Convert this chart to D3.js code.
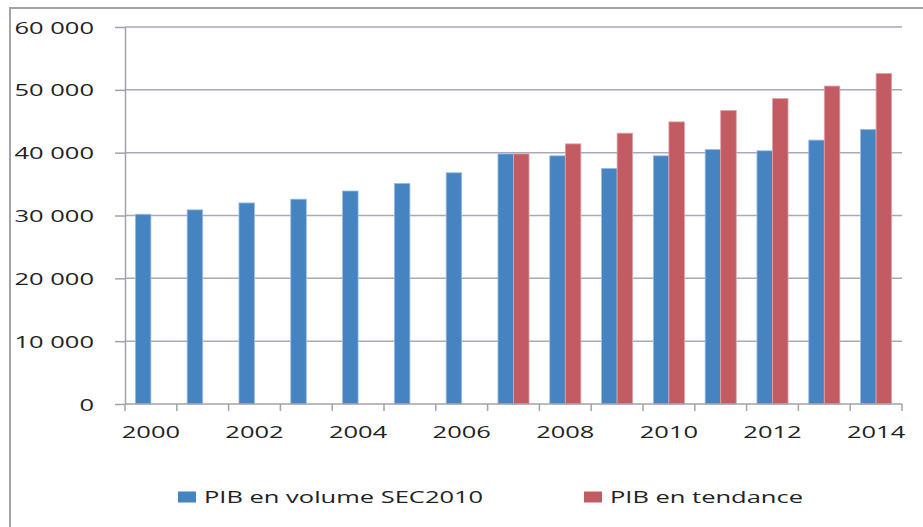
<!DOCTYPE html>
<html>
<head>
<meta charset="utf-8">
<script src="https://cdn.jsdelivr.net/npm/d3@7"></script>
<style>
  body { margin: 0; background: #fff; }
  svg { display: block; }
  text { font-family: "Open Sans", sans-serif; fill: #222; }
</style>
</head>
<body>
<svg id="chart" width="923" height="527"></svg>
<script>
// data
const years = [2000, 2001, 2002, 2003, 2004, 2005, 2006, 2007, 2008, 2009, 2010, 2011, 2012, 2013, 2014];
const volume = [30200, 30900, 32000, 32600, 33900, 35100, 36800, 39800, 39500, 37500, 39500, 40500, 40300, 42000, 43700];
const tendance = [null, null, null, null, null, null, null, 39800, 41400, 43100, 44900, 46700, 48600, 50600, 52600];
const seriesNames = ["PIB en volume SEC2010", "PIB en tendance"];
const colors = ["#4584c1", "#c35c62"];
const yTicks = [0, 10000, 20000, 30000, 40000, 50000, 60000];

const SX = 1.5; // the original picture is stretched horizontally
const margin = {left: 125, right: 21, top: 27, bottom: 123};
const width = 923, height = 527;

const svg = d3.select("#chart");

// outer frame
svg.append("rect")
  .attr("x", 10).attr("y", 8)
  .attr("width", 960).attr("height", 560)
  .attr("fill", "none")
  .attr("stroke", "#a2a2a8")
  .attr("stroke-width", 2);

const x = d3.scaleBand()
  .domain(years)
  .range([margin.left, width - margin.right])
  .padding(0);

const inner = 0.6; // cluster share of the category
const x1 = d3.scaleBand()
  .domain([0, 1])
  .range([x.bandwidth() * (1 - inner) / 2, x.bandwidth() * (1 + inner) / 2]);

const y = d3.scaleLinear()
  .domain([0, 60000])
  .range([height - margin.bottom, margin.top]);

const fr = d3.formatLocale({decimal: ",", thousands: " ", grouping: [3], currency: ["", " €"]});
const fmt = fr.format(",");

// gridlines
svg.append("g")
  .selectAll("line")
  .data(yTicks.filter(d => d > 0))
  .enter().append("line")
  .attr("x1", margin.left).attr("x2", width - margin.right)
  .attr("y1", d => y(d)).attr("y2", d => y(d))
  .attr("stroke", "#a9a9ba")
  .attr("stroke-width", 1.5);

// bars
const groups = svg.append("g")
  .selectAll("g")
  .data(years.map((yr, i) => ({yr, vals: [volume[i], tendance[i]]})))
  .enter().append("g")
  .attr("transform", d => `translate(${x(d.yr)},0)`);

groups.selectAll("rect")
  .data(d => d.vals.map((v, k) => ({v, k})).filter(e => e.v != null))
  .enter().append("rect")
  .attr("x", d => x1(d.k))
  .attr("width", x1.bandwidth())
  .attr("y", d => y(d.v))
  .attr("height", d => y(0) - y(d.v))
  .attr("fill", d => colors[d.k])
  .attr("stroke", d => d.k === 0 ? "#9dbde0" : "#dea3a6")
  .attr("stroke-width", 0.8);

// y axis
const yAxis = svg.append("g")
  .attr("transform", `translate(${margin.left},0)`)
  .call(d3.axisLeft(y).tickValues(yTicks).tickFormat(fmt).tickSize(10).tickSizeOuter(0));
yAxis.select(".domain").attr("stroke", "#a2a2ae").attr("stroke-width", 1.5);
yAxis.selectAll(".tick line").attr("stroke", "#a2a2ae").attr("stroke-width", 1.5);
yAxis.selectAll(".tick text")
  .attr("x", null).attr("dy", "0.36em")
  .attr("transform", `translate(-31,0) scale(${SX},1)`)
  .style("font-size", "17px")
  .attr("fill", "#222");

// x axis: ticks on the category boundaries, labels on every other year
const xAxis = svg.append("g")
  .attr("transform", `translate(0,${y(0)})`);
xAxis.append("line")
  .attr("x1", margin.left).attr("x2", width - margin.right)
  .attr("stroke", "#a2a2ae").attr("stroke-width", 1.5);
const bounds = years.map(d => x(d)).concat([x(years[years.length - 1]) + x.bandwidth()]);
xAxis.selectAll(".btick")
  .data(bounds)
  .enter().append("line")
  .attr("class", "btick")
  .attr("x1", d => d).attr("x2", d => d)
  .attr("y1", 0).attr("y2", 7)
  .attr("stroke", "#a2a2ae").attr("stroke-width", 1.5);
xAxis.selectAll(".xl")
  .data(years.filter(d => d % 2 === 0))
  .enter().append("text")
  .attr("class", "xl")
  .attr("text-anchor", "middle")
  .attr("dy", "0.36em")
  .attr("transform", d => `translate(${x(d) + x.bandwidth() / 2},28) scale(${SX},1)`)
  .style("font-size", "17px")
  .text(d => d);

// legend
const legendX = [178, 584];
const leg = svg.append("g")
  .selectAll("g")
  .data(seriesNames)
  .enter().append("g")
  .attr("transform", (d, i) => `translate(${legendX[i]},497)`);
leg.append("rect")
  .attr("x", 0).attr("y", -5.5)
  .attr("width", 18).attr("height", 11)
  .attr("fill", (d, i) => colors[i]);
leg.append("text")
  .attr("dy", "0.36em")
  .attr("transform", `translate(26,0) scale(${SX},1)`)
  .style("font-size", "17px")
  .text(d => d);
</script>
</body>
</html>
